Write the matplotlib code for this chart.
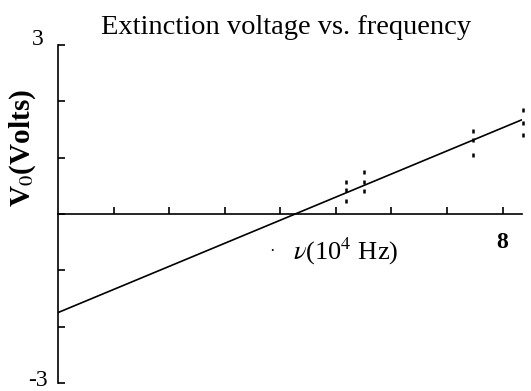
import numpy as np
import matplotlib
matplotlib.use("Agg")
import matplotlib.pyplot as plt
from matplotlib.transforms import offset_copy

# Measured extinction voltages at each frequency (10^4 Hz, Volts)
freq = [5.18, 5.18, 5.18, 5.50, 5.50, 5.50, 7.46, 7.46, 7.46, 8.37, 8.37, 8.37]
volts = [0.57, 0.43, 0.23, 0.75, 0.57, 0.41, 1.48, 1.32, 1.05, 1.84, 1.62, 1.41]

# Fitted straight line V0 = slope * nu + intercept
fit_slope = 0.41
fit_intercept = -1.75
fit_range = [0.0, 8.35]

y_ticks = [-3, -2, -1, 0, 1, 2, 3]
y_tick_labels = ["", "", "", "", "", "", "3"]
y_bottom_label = "-3"
x_ticks = [1, 2, 3, 4, 5, 6, 7, 8]
x_tick_labels = ["", "", "", "", "", "", "", "8"]

plt.rcParams["font.family"] = ["Liberation Serif", "DejaVu Serif"]
plt.rcParams["mathtext.fontset"] = "stix"

fig = plt.figure(figsize=(5.31, 3.91), dpi=100)
W, H = 531, 391
ax = fig.add_axes([58 / W, (H - 383) / H, (522 - 58) / W, (383 - 45) / H])

xs = np.array(fit_range)
ax.plot(xs, fit_slope * xs + fit_intercept, color="black", lw=1.2)
ax.plot(freq, volts, linestyle="none", marker="|", markersize=3.5,
        markeredgewidth=1.8, color="black", clip_on=False)

ax.set_xlim(0, 8.35)
ax.set_ylim(-3, 3)
ax.spines["top"].set_visible(False)
ax.spines["right"].set_visible(False)
ax.spines["bottom"].set_position(("data", 0))
ax.spines["left"].set_linewidth(1.2)
ax.spines["bottom"].set_linewidth(1.2)

ax.set_yticks(y_ticks)
ax.set_yticklabels(y_tick_labels, fontsize=17)
ax.set_xticks(x_ticks)
ax.set_xticklabels(x_tick_labels, fontsize=17, fontweight="bold")
ax.tick_params(axis="y", direction="in", length=5, width=1.2, pad=10)
ax.tick_params(axis="x", direction="in", length=5, width=1.2, pad=13)
ax.get_yticklabels()[-1].set_va("baseline")

# bottom y label sits slightly below its tick
ax.text(0, y_ticks[0], y_bottom_label, fontsize=17, ha="right", va="baseline",
        transform=offset_copy(ax.transData, fig=fig, x=-10, y=-3, units="dots"),
        clip_on=False)

ax.text(3.85, -0.68, "·", fontsize=12, ha="center", va="center")
ax.text(4.22, -0.66, r"$\nu$(10$^4$ Hz)", fontsize=19, ha="left", va="center")
fig.text(23 / W, 1 - 148 / H, r"V$_0$(Volts)", rotation=90, fontsize=21,
         fontweight="bold", ha="center", va="center")
fig.text(286 / W, 1 - 27 / H, "Extinction voltage vs. frequency", fontsize=20.5,
         ha="center", va="center")

fig.savefig("out.png", dpi=100)
